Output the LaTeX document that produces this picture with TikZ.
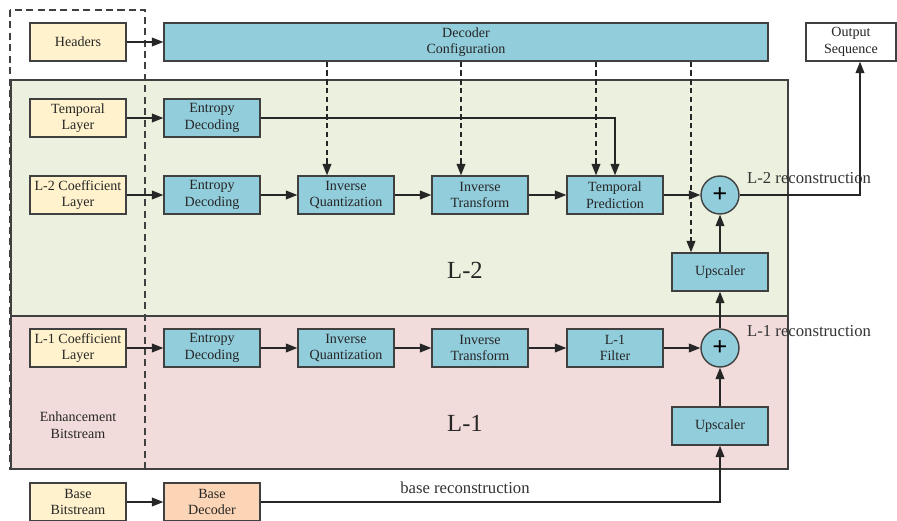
\documentclass[tikz,border=0pt]{standalone}
\usepackage{fontspec}
\setmainfont{Liberation Serif}
\usetikzlibrary{calc, arrows.meta, positioning}

\definecolor{cfgblue}{HTML}{92CDDC}
\definecolor{srcyellow}{HTML}{FFF2CC}
\definecolor{basepeach}{HTML}{FBD5B5}
\definecolor{layergreen}{HTML}{EBF1DE}
\definecolor{layerpink}{HTML}{F2DCDB}
\definecolor{edgegray}{HTML}{404040}

\tikzset{
  blk/.style={draw=edgegray, line width=0.8pt, minimum width=1.92cm, minimum height=0.76cm,
    align=center, inner sep=1pt, text=black!85, font=\fontsize{8}{9.5}\selectfont},
  src/.style={blk, fill=srcyellow},
  proc/.style={blk, fill=cfgblue},
  sumnode/.style={circle, draw=edgegray, line width=0.8pt, fill=cfgblue, minimum size=0.76cm,
    inner sep=0pt, font=\fontsize{15}{15}\selectfont\bfseries},
  flow/.style={-{Triangle[length=6.5pt,width=5pt]}, line width=0.7pt, draw=black!85},
  cfgflow/.style={flow, dash pattern=on 3pt off 2pt},
  lbl/.style={text=black!80, font=\fontsize{9.5}{11}\selectfont},
  layername/.style={text=black!85, font=\fontsize{14}{16}\selectfont},
}

\begin{document}
\begin{tikzpicture}[x=0.02cm, y=-0.02cm]
  \useasboundingbox (0,0) rectangle (897,521);
  % Zones L-2 / L-1
  \draw[edgegray, line width=0.8pt, fill=layergreen] (11,80) rectangle (788,316);
  \draw[edgegray, line width=0.8pt, fill=layerpink] (11,316) rectangle (788,469);
  % Flux d'amélioration (cadre pointillé)
  \draw[edgegray, line width=0.8pt, dash pattern=on 4pt off 2.5pt] (10,10) rectangle (145,469);

  % Ligne du haut
  \node[src] (hdr) at (78,42) {Headers};
  \node[proc, minimum width=12.08cm] (cfg) at (466,42) {Decoder\\Configuration};
  \node[blk, fill=white, minimum width=1.8cm] (out) at (851,42) {Output\\Sequence};

  % Couche L-2
  \node[src] (tl) at (78,118) {Temporal\\Layer};
  \node[proc] (ed0) at (212,118) {Entropy\\Decoding};
  \node[src] (c2) at (78,195) {L-2 Coefficient\\Layer};
  \node[proc] (ed2) at (212,195) {Entropy\\Decoding};
  \node[proc] (iq2) at (346,195) {Inverse\\Quantization};
  \node[proc] (it2) at (480,195) {Inverse\\Transform};
  \node[proc] (tp) at (615,195) {Temporal\\Prediction};
  \node[sumnode] (sum2) at (720,195) {+};
  \node[proc] (up2) at (720,272) {Upscaler};
  \node[lbl, anchor=west] (rec2) at (741,178) {L-2 reconstruction};
  \node[layername] (nm2) at (465,270) {L-2};

  % Couche L-1
  \node[src] (c1) at (78,348) {L-1 Coefficient\\Layer};
  \node[proc] (ed1) at (212,348) {Entropy\\Decoding};
  \node[proc] (iq1) at (346,348) {Inverse\\Quantization};
  \node[proc] (it1) at (480,348) {Inverse\\Transform};
  \node[proc] (flt) at (615,348) {L-1\\Filter};
  \node[sumnode] (sum1) at (720,348) {+};
  \node[proc] (up1) at (720,426) {Upscaler};
  \node[lbl, anchor=west] (rec1) at (741,331) {L-1 reconstruction};
  \node[layername] (nm1) at (465,423) {L-1};
  \node[align=center, text=black!85, font=\fontsize{8}{9.5}\selectfont] (enh) at (78,425) {Enhancement\\Bitstream};

  % Couche de base
  \node[src] (bb) at (78,502) {Base\\Bitstream};
  \node[blk, fill=basepeach] (bd) at (212,502) {Base\\Decoder};
  \node[lbl] (brec) at (465,488) {base reconstruction};

  % Points d'entrée des signaux de configuration
  \coordinate (iq2in) at ($(iq2.north)+(-19,0)$);
  \coordinate (it2in) at ($(it2.north)+(-19,0)$);
  \coordinate (tpin) at ($(tp.north)+(-19,0)$);
  \coordinate (up2in) at ($(up2.north)+(-29,0)$);
  \coordinate (outin) at ($(out.south)+(9,0)$);

  % Connexions
  \draw[flow] (hdr) -- (cfg);
  \draw[cfgflow] (cfg.south -| iq2in) -- (iq2in);
  \draw[cfgflow] (cfg.south -| it2in) -- (it2in);
  \draw[cfgflow] (cfg.south -| tpin) -- (tpin);
  \draw[cfgflow] (cfg.south -| up2in) -- (up2in);
  \draw[flow] (tl) -- (ed0);
  \draw[flow] (ed0.east) -| (tp.north);
  \draw[flow] (c2) -- (ed2);
  \draw[flow] (ed2) -- (iq2);
  \draw[flow] (iq2) -- (it2);
  \draw[flow] (it2) -- (tp);
  \draw[flow] (tp) -- (sum2);
  \draw[flow] (up2) -- (sum2);
  \draw[flow] (sum2.east) -| (outin);
  \draw[flow] (c1) -- (ed1);
  \draw[flow] (ed1) -- (iq1);
  \draw[flow] (iq1) -- (it1);
  \draw[flow] (it1) -- (flt);
  \draw[flow] (flt) -- (sum1);
  \draw[flow] (up1) -- (sum1);
  \draw[flow] (sum1) -- (up2);
  \draw[flow] (bb) -- (bd);
  \draw[flow] (bd.east) -| (up1.south);
\end{tikzpicture}
\end{document}
